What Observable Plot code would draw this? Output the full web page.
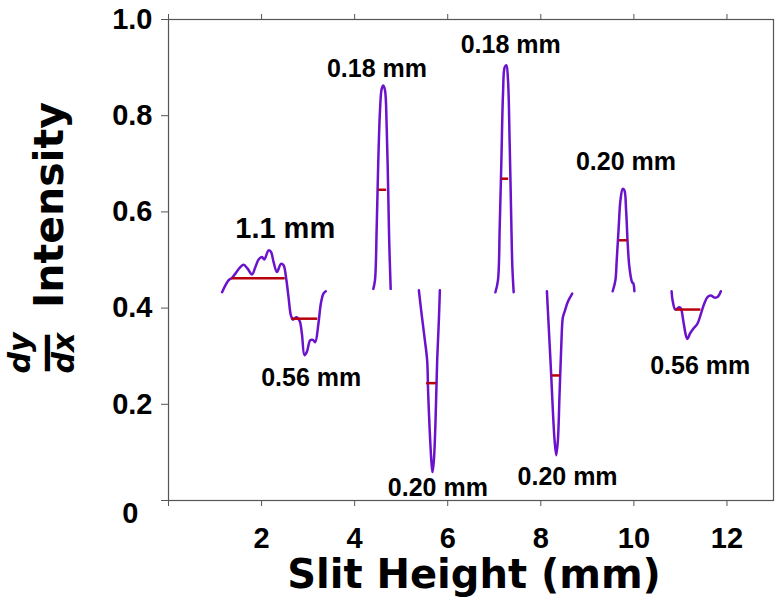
<!DOCTYPE html>
<html>
<head>
<meta charset="utf-8">
<script src="https://cdn.jsdelivr.net/npm/d3@7"></script>
<script src="https://cdn.jsdelivr.net/npm/@observablehq/plot@0.6"></script>
<style>
  html, body { margin: 0; padding: 0; background: #fff; }
</style>
</head>
<body>
<div id="chart"></div>
<script>
// ---- Data ----
const xTicks = [0, 2, 4, 6, 8, 10, 12];
const yTicks = [0, 0.2, 0.4, 0.6, 0.8, 1.0];

// derivative traces (slit height mm, dy/dx intensity)
const seg1X = [1.151, 1.293, 1.365, 1.543, 1.614, 1.700, 1.794, 1.865, 1.936, 2.009, 2.058, 2.150, 2.201, 2.257, 2.330, 2.416, 2.472, 2.529, 2.579, 2.630, 2.673, 2.744, 2.815, 2.866, 2.922, 2.973, 3.044, 3.102, 3.151, 3.222, 3.273, 3.329, 3.380];
const seg1Y = [0.433, 0.458, 0.463, 0.485, 0.490, 0.482, 0.470, 0.485, 0.501, 0.506, 0.501, 0.520, 0.517, 0.496, 0.475, 0.492, 0.489, 0.461, 0.423, 0.385, 0.376, 0.381, 0.374, 0.347, 0.302, 0.309, 0.333, 0.334, 0.329, 0.368, 0.409, 0.430, 0.435];

const seg2X = [4.401, 4.437, 4.474, 4.508, 4.545, 4.581, 4.615, 4.652, 4.688, 4.722, 4.744, 4.774];
const seg2Y = [0.440, 0.458, 0.569, 0.707, 0.811, 0.856, 0.863, 0.853, 0.777, 0.638, 0.534, 0.440];

const seg3X = [5.380, 5.438, 5.509, 5.558, 5.580, 5.616, 5.653, 5.674, 5.702, 5.738, 5.773, 5.809, 5.831];
const seg3Y = [0.437, 0.388, 0.333, 0.291, 0.222, 0.139, 0.076, 0.059, 0.083, 0.166, 0.291, 0.374, 0.437];

const seg4X = [7.025, 7.080, 7.117, 7.153, 7.188, 7.224, 7.260, 7.295, 7.331, 7.368, 7.389, 7.417];
const seg4Y = [0.433, 0.458, 0.569, 0.707, 0.846, 0.901, 0.905, 0.874, 0.742, 0.569, 0.485, 0.433];

const seg5X = [8.131, 8.152, 8.189, 8.225, 8.259, 8.296, 8.332, 8.367, 8.403, 8.439, 8.474, 8.510, 8.581, 8.675];
const seg5Y = [0.435, 0.395, 0.326, 0.257, 0.187, 0.125, 0.094, 0.125, 0.222, 0.319, 0.381, 0.392, 0.413, 0.430];

const seg6X = [9.545, 9.603, 9.631, 9.674, 9.711, 9.760, 9.796, 9.833, 9.867, 9.904, 9.961, 9.989, 10.011];
const seg6Y = [0.435, 0.458, 0.499, 0.569, 0.624, 0.648, 0.645, 0.603, 0.534, 0.485, 0.454, 0.451, 0.435];

const seg7X = [10.810, 10.832, 10.890, 10.976, 11.012, 11.061, 11.119, 11.153, 11.205, 11.276, 11.368, 11.440, 11.511, 11.582, 11.655, 11.726, 11.797, 11.869];
const seg7Y = [0.435, 0.416, 0.397, 0.402, 0.399, 0.374, 0.343, 0.336, 0.347, 0.357, 0.368, 0.388, 0.409, 0.423, 0.426, 0.422, 0.423, 0.435];

// FWHM bars (red)
const fwhmX1 = [1.365, 2.651, 4.515, 5.546, 7.153, 8.238, 9.689, 10.904];
const fwhmX2 = [2.508, 3.208, 4.688, 5.760, 7.310, 8.424, 9.867, 11.440];
const fwhmY  = [0.462, 0.378, 0.646, 0.244, 0.669, 0.260, 0.541, 0.397];

// width annotations
const labelText = ["1.1 mm", "0.56 mm", "0.18 mm", "0.20 mm", "0.18 mm", "0.20 mm", "0.20 mm", "0.56 mm"];
const labelX    = [2.508, 3.066, 4.480, 5.788, 7.353, 8.575, 9.830, 11.425];
const labelY    = [0.566, 0.254, 0.897, 0.025, 0.946, 0.048, 0.703, 0.279];

// ---- Build tables ----
const segs = [[seg1X, seg1Y], [seg2X, seg2Y], [seg3X, seg3Y], [seg4X, seg4Y], [seg5X, seg5Y], [seg6X, seg6Y], [seg7X, seg7Y]];
const traces = segs.flatMap(([xs, ys], s) => xs.map((x, i) => ({seg: s, x, y: ys[i]})));
const bars = fwhmY.map((y, i) => ({x1: fwhmX1[i], x2: fwhmX2[i], y}));
const labels = labelText.map((t, i) => ({text: t, x: labelX[i], y: labelY[i], big: t === "1.1 mm"}));

const purple = "#6a12cc";
const red = "#b8000c";
const axisGray = "#555";
const titleFont = "'DejaVu Sans', sans-serif";
const centered = {textAnchor: "middle", lineAnchor: "middle"};

const chart = Plot.plot({
  width: 775,
  height: 599,
  marginLeft: 168,
  marginRight: 2,
  marginTop: 19,
  marginBottom: 99,
  style: {fontFamily: "'Liberation Sans', Arial, sans-serif", background: "#fff", color: "#000"},
  x: {domain: [0, 13]},
  y: {domain: [0, 1]},
  marks: [
    Plot.frame({stroke: axisGray, strokeWidth: 1.2}),
    Plot.axisX({ticks: xTicks, tickFormat: d => d === 0 ? "" : String(d), tickSize: 6, tickPadding: 21,
      fontSize: 29, fontWeight: "bold", label: null, stroke: axisGray, fill: "#000"}),
    Plot.axisX({anchor: "top", ticks: xTicks, tickFormat: () => "", tickSize: 6, label: null, stroke: axisGray}),
    Plot.axisY({ticks: yTicks, tickFormat: d => d === 0 ? "" : d.toFixed(1), tickSize: 7, tickPadding: 9,
      fontSize: 29, fontWeight: "bold", label: null, stroke: axisGray, fill: "#000"}),
    Plot.axisY({ticks: [0], tickFormat: () => "0", tickSize: 0, tickPadding: 30, dy: 13,
      fontSize: 29, fontWeight: "bold", label: null, fill: "#000"}),
    Plot.line(traces, {x: "x", y: "y", z: "seg", stroke: purple, strokeWidth: 2.5, curve: "catmull-rom"}),
    Plot.ruleY(bars, {y: "y", x1: "x1", x2: "x2", stroke: red, strokeWidth: 2.5}),
    Plot.text(labels.filter(d => !d.big), {x: "x", y: "y", text: "text", fontSize: 25, fontWeight: "bold", fill: "#000"}),
    Plot.text(labels.filter(d => d.big), {x: "x", y: "y", text: "text", fontSize: 29, fontWeight: "bold", fill: "#000"}),
    // axis titles
    Plot.text(["Slit Height (mm)"], {...centered, frameAnchor: "bottom", text: d => d, dx: 3, dy: 75,
      fontSize: 40, fontWeight: "bold", fontFamily: titleFont, fill: "#000"}),
    Plot.text(["Intensity"], {...centered, frameAnchor: "left", text: d => d, rotate: -90, dx: -119, dy: -55,
      fontSize: 41, fontWeight: "bold", fontFamily: titleFont, fill: "#000"}),
    Plot.text(["dy"], {...centered, frameAnchor: "left", text: d => d, rotate: -90, dx: -148, dy: 93,
      fontSize: 30, fontWeight: "bold", fontStyle: "italic", fontFamily: titleFont, fill: "#000"}),
    Plot.text(["\u2014"], {...centered, frameAnchor: "left", text: d => d, rotate: -90, dx: -123, dy: 93,
      fontSize: 41, fontWeight: "bold", fontFamily: titleFont, fill: "#000"}),
    Plot.text(["dx"], {...centered, frameAnchor: "left", text: d => d, rotate: -90, dx: -104, dy: 93,
      fontSize: 30, fontWeight: "bold", fontStyle: "italic", fontFamily: titleFont, fill: "#000"})
  ]
});

document.getElementById("chart").appendChild(chart);
</script>
</body>
</html>
